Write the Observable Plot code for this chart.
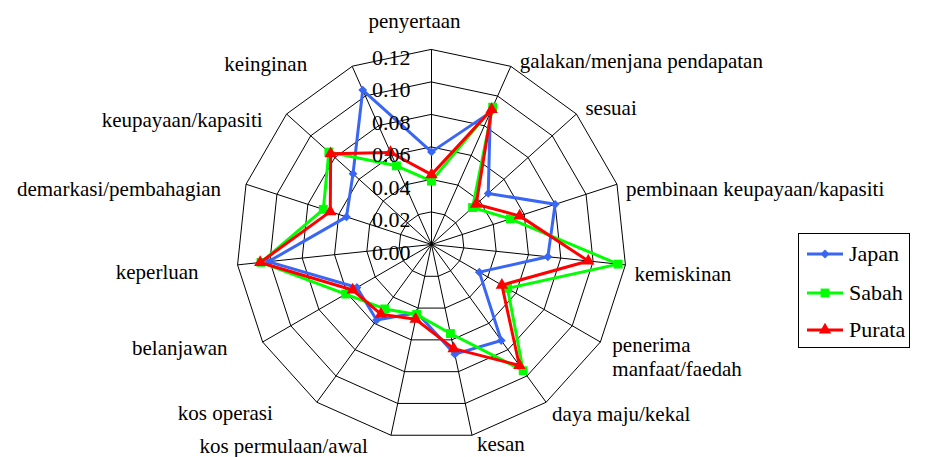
<!DOCTYPE html>
<html>
<head>
<meta charset="utf-8">
<script src="https://cdn.jsdelivr.net/npm/d3@7"></script>
<script src="https://cdn.jsdelivr.net/npm/@observablehq/plot@0.6"></script>
<style>
  html, body { margin: 0; padding: 0; background: #fff; }
  #wrap { position: relative; width: 944px; height: 457px; font-family: 'Liberation Serif', 'Times New Roman', Times, serif; }
  #wrap svg text { font-family: 'Liberation Serif', 'Times New Roman', Times, serif; }
  #legend { position: absolute; left: 798px; top: 233px; width: 110px; height: 113px; border: 1px solid #000; background: #fff; }
  #legend .row { position: absolute; left: 0; height: 30px; display: flex; align-items: center; }
  #legend .row span { font-size: 22px; margin-left: 4px; line-height: 22px; }
</style>
</head>
<body>
<div id="wrap"><div id="legend"></div></div>
<script>
// ---- data ----
const categories = ["penyertaan", "galakan/menjana pendapatan", "sesuai", "pembinaan keupayaan/kapasiti",
  "kemiskinan", "penerima\nmanfaat/faedah", "daya maju/kekal", "kesan", "kos permulaan/awal",
  "kos operasi", "belanjawan", "keperluan", "demarkasi/pembahagian", "keupayaan/kapasiti", "keinginan"];
const seriesNames = ["Japan", "Sabah", "Purata"];
const japan  = [0.057, 0.089, 0.047, 0.080, 0.072, 0.034, 0.073, 0.069, 0.043, 0.0575, 0.053, 0.101, 0.055, 0.065, 0.104];
const sabah  = [0.039, 0.0925, 0.034, 0.051, 0.1155, 0.054, 0.096, 0.056, 0.044, 0.049, 0.061, 0.1055, 0.070, 0.085, 0.053];
const purata = [0.043, 0.091, 0.037, 0.057, 0.097, 0.050, 0.092, 0.0655, 0.047, 0.053, 0.056, 0.106, 0.0655, 0.0835, 0.062];
const tickValues = [0, 0.02, 0.04, 0.06, 0.08, 0.10, 0.12];

// ---- styles / layout ----
const W = 944, H = 457, cx = 431, cy = 244, R = 195, maxV = 0.12;
const colors = {Japan: "#3a66f5", Sabah: "#00ff00", Purata: "#ff0000"};
const symbols = {Japan: "diamond2", Sabah: "square", Purata: "triangle"};
const radii = {Japan: 4.0, Sabah: 5.0, Purata: 4.6};
// label offsets from outer vertex: [textAnchor, dx, dy]
const labelLayout = [
  ["middle", -17, -29], ["start", 9, -6], ["start", 9, -7], ["start", 9, 4], ["start", 9, 8],
  ["start", 12, 14], ["start", 6, 11], ["start", 5, 8], ["end", -23, 10], ["end", -44, 10],
  ["end", -35, 5], ["end", -39, 6], ["end", -25, 4], ["end", -24, 5], ["end", -45, -3]
];

const n = categories.length;
const ang = i => (i * 2 * Math.PI) / n;
const px = (v, i) => v * Math.sin(ang(i));
const py = (v, i) => v * Math.cos(ang(i));

const seriesVals = {Japan: japan, Sabah: sabah, Purata: purata};
const rows = seriesNames.flatMap(s => seriesVals[s].map((v, i) => ({series: s, i, v, x: px(v, i), y: py(v, i)})));
const rings = tickValues.filter(t => t > 0).flatMap(t => categories.map((c, i) => ({t, x: px(t, i), y: py(t, i)})));
const spokes = categories.map((c, i) => ({x1: 0, y1: 0, x2: px(maxV, i), y2: py(maxV, i)}));
const labels = categories.map((c, i) => ({c, i, x: px(maxV, i), y: py(maxV, i)}));

const font = "'Liberation Serif', 'Times New Roman', Times, serif";
const marks = [
  Plot.line(rings, {x: "x", y: "y", z: "t", curve: "linear-closed", stroke: "#000", strokeWidth: 1}),
  Plot.link(spokes, {x1: "x1", y1: "y1", x2: "x2", y2: "y2", stroke: "#000", strokeWidth: 1}),
];
for (const s of seriesNames) {
  const d = rows.filter(r => r.series === s);
  marks.push(Plot.line(d, {x: "x", y: "y", curve: "linear-closed", stroke: colors[s], strokeWidth: 3, strokeLinejoin: "miter"}));
  marks.push(Plot.dot(d, {x: "x", y: "y", symbol: symbols[s], r: radii[s], fill: colors[s], stroke: "none"}));
}
marks.push(Plot.text(tickValues, {x: 0, y: d => d, text: d => d.toFixed(2), textAnchor: "end", dx: -21, dy: 8,
  fontSize: 22, fontFamily: font, fill: "#000"}));
for (const l of labels) {
  const [anchor, dx, dy] = labelLayout[l.i];
  marks.push(Plot.text([l], {x: "x", y: "y", text: "c", textAnchor: anchor, dx, dy, fontSize: 21,
    fontFamily: font, fill: "#000", lineHeight: 1.14}));
}

const chart = Plot.plot({
  width: W, height: H, margin: 0,
  x: {domain: [-cx / R * maxV, (W - cx) / R * maxV], range: [0, W], axis: null},
  y: {domain: [-(H - cy) / R * maxV, cy / R * maxV], range: [H, 0], axis: null},
  style: {background: "#fff", fontFamily: font},
  marks
});
document.getElementById("wrap").prepend(chart);

// legend
const legend = d3.select("#legend");
const rowTops = [5, 44, 81];
seriesNames.forEach((s, k) => {
  const row = legend.append("div").attr("class", "row").style("top", rowTops[k] + "px");
  const svg = row.append("svg").attr("width", 46).attr("height", 30);
  svg.append("line").attr("x1", 8).attr("x2", 44).attr("y1", 15).attr("y2", 15)
    .attr("stroke", colors[s]).attr("stroke-width", 3);
  const sym = {diamond2: d3.symbolDiamond2, square: d3.symbolSquare, triangle: d3.symbolTriangle}[symbols[s]];
  svg.append("path").attr("transform", "translate(26,15)")
    .attr("d", d3.symbol(sym, Math.PI * radii[s] * radii[s])())
    .attr("fill", colors[s]);
  row.append("span").text(s);
});
</script>
</body>
</html>
